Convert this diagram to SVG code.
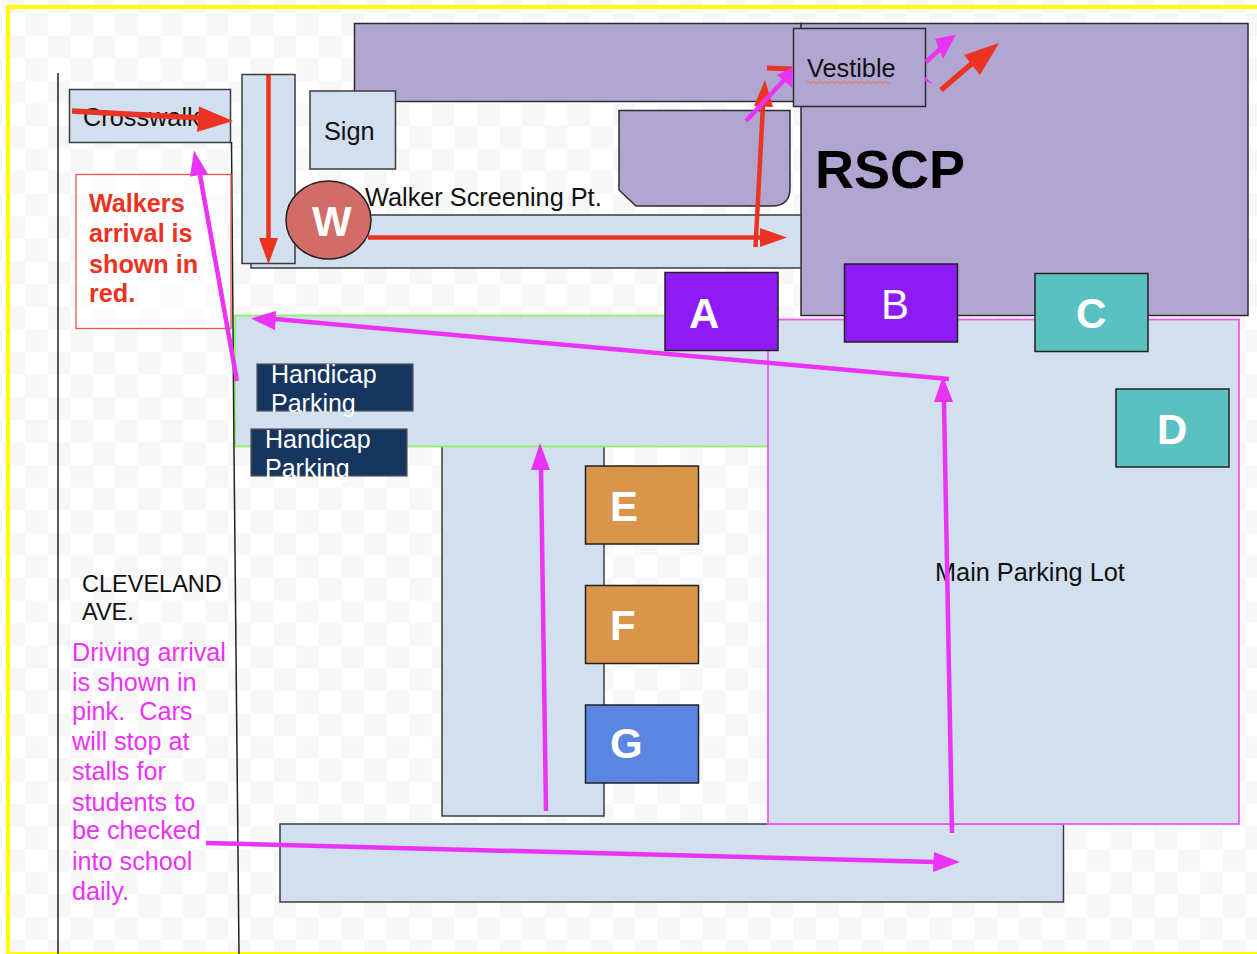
<svg xmlns="http://www.w3.org/2000/svg" width="1257" height="954" viewBox="0 0 1257 954">
<style>
text{font-family:"Liberation Sans",Arial,sans-serif}
.b{fill:#d2dfef;stroke:#3d3d3d;stroke-width:1.5}
.p{fill:#b1a6d1;stroke:#2c2c2c;stroke-width:1.5}
.k{font-size:25.3px;fill:#111}
.w{fill:#fff;font-weight:bold;font-size:42px}
.hc{fill:#17365f;stroke:#555;stroke-width:1.2}
.ht{fill:#fff;font-size:25px}
.rl{stroke:#ec3323;stroke-width:4.500;fill:none}
.ml{stroke:#ea33f5;stroke-width:4.500;fill:none}
.ra{fill:#ec3323}
.ma{fill:#ea33f5}
.rt{fill:#ec3323;font-size:25.2px;font-weight:bold}
.mt{fill:#ea33f5;font-size:25.2px;white-space:pre}
.tile{stroke:#222;stroke-width:1.5}
</style>
<defs>
<pattern id="chk" width="45.2" height="45.2" x="25" y="13" patternUnits="userSpaceOnUse">
<rect width="45.2" height="45.2" fill="#fff"/>
<rect width="22.6" height="22.6" fill="#f7f7f7"/>
<rect x="22.6" y="22.6" width="22.6" height="22.6" fill="#f7f7f7"/>
</pattern>
</defs>
<rect id="background" width="1257" height="954" fill="url(#chk)"/>
<rect id="frame" x="8" y="7" width="1262" height="947" fill="none" stroke="#ffff00" stroke-width="4"/>

<g id="building">
<rect class="p" x="354.500" y="23.500" width="447" height="78"/>
<rect class="p" x="801" y="23.500" width="447" height="292"/>
<path class="p" d="M619 110.500H790V188Q790 206 772 206H636L619 190Z"/>
</g>

<g id="walkway">
<rect class="b" x="251" y="215" width="550" height="53"/>
<rect class="b" x="242" y="74.500" width="53" height="189"/>
</g>

<g id="crosswalk"><rect class="b" x="69.500" y="89.500" width="161" height="53"/><text class="k" x="83" y="126">Crosswalk</text></g>
<g id="sign"><rect class="b" x="310" y="91" width="85.500" height="78"/><text class="k" x="324" y="140">Sign</text></g>
<g id="walker-label"><text class="k" x="365" y="206">Walker Screening Pt.</text></g>
<g id="w"><ellipse cx="328.500" cy="220" rx="42.500" ry="39" fill="#d16c68" stroke="#222" stroke-width="1.5"/><text class="w" x="312" y="236">W</text></g>

<g id="lane"><rect class="b" x="442" y="440" width="162" height="376"/></g>
<g id="bottom-lane"><rect class="b" x="280" y="824" width="783.500" height="78"/></g>
<g id="front-lot"><rect x="235" y="315.500" width="533" height="131" fill="#d2dfef" stroke="#8cf268" stroke-width="1.800"/></g>
<g id="main-lot"><rect x="768" y="319.500" width="471" height="504.500" fill="#d2dfef" stroke="#ec5cf0" stroke-width="1.800"/><text class="k" x="935" y="581">Main Parking Lot</text></g>

<g id="road-lines" fill="none" stroke="#222" stroke-width="1.5">
<path d="M58 73V954"/>
<path d="M231.500 142L234 450L239 954"/>
</g>

<g id="vestible"><rect class="p" x="793.500" y="28.500" width="132" height="78"/><text class="k" x="807" y="77">Vestible</text><path d="M806 82.500q1.500-2 3-0t3 0 3 0 3 0 3 0 3 0 3 0 3 0 3 0 3 0 3 0 3 0 3 0 3 0 3 0 3 0 3 0 3 0 3 0 3 0 3 0 3 0 3 0 3 0 3 0 3 0 3 0 3 0" fill="none" stroke="#e8786a" stroke-width="1.200"/></g>
<g id="rscp"><text x="815" y="188" font-size="54" font-weight="bold" fill="#000">RSCP</text></g>

<g id="A"><rect class="tile" x="665" y="272.500" width="113" height="78" fill="#8e1bf5"/><text class="w" x="689" y="328">A</text></g>
<g id="B"><rect class="tile" x="844.500" y="264" width="113" height="78" fill="#8e1bf5"/><text x="881" y="319" font-size="42" fill="#fff">B</text></g>
<g id="C"><rect class="tile" x="1035" y="273.500" width="113" height="78" fill="#59c2c0"/><text class="w" x="1076" y="328">C</text></g>
<g id="D"><rect class="tile" x="1116" y="389" width="113" height="78" fill="#59c2c0"/><text class="w" x="1157" y="444">D</text></g>
<g id="E"><rect class="tile" x="585.500" y="466" width="113" height="78" fill="#d9964b"/><text class="w" x="610" y="521">E</text></g>
<g id="F"><rect class="tile" x="585.500" y="585.500" width="113" height="78" fill="#d9964b"/><text class="w" x="610" y="640">F</text></g>
<g id="G"><rect class="tile" x="585.500" y="705" width="113" height="78" fill="#5a86e2"/><text class="w" x="610" y="758">G</text></g>

<g id="handicap-1"><rect class="hc" x="257" y="364" width="156" height="47"/><text class="ht" x="271" y="383">Handicap</text><text class="ht" x="271" y="412">Parking</text></g>
<g id="handicap-2"><rect class="hc" x="251" y="429" width="156" height="47"/><text class="ht" x="265" y="448">Handicap</text><text class="ht" x="265" y="477">Parking</text></g>

<g id="walkers-note"><rect x="76" y="174.500" width="155" height="154" fill="#fff" fill-opacity=".6" stroke="#f0554a" stroke-width="1.300"/>
<text class="rt"><tspan x="89" y="212">Walkers</tspan><tspan x="89" y="242">arrival is</tspan><tspan x="89" y="273">shown in</tspan><tspan x="89" y="302">red.</tspan></text></g>
<g id="street-label"><text font-size="23.500" fill="#111"><tspan x="82" y="592">CLEVELAND</tspan><tspan x="82" y="620">AVE.</tspan></text></g>
<g id="driving-note"><text class="mt"><tspan x="72" y="661">Driving arrival</tspan><tspan x="72" y="691">is shown in</tspan><tspan x="72" y="720">pink.  Cars</tspan><tspan x="72" y="750">will stop at</tspan><tspan x="72" y="780">stalls for</tspan><tspan x="72" y="811">students to</tspan><tspan x="72" y="839">be checked</tspan><tspan x="72" y="870">into school</tspan><tspan x="72" y="900">daily.</tspan></text></g>

<g id="connectors">
<path class="rl" d="M72 111L200 118" style="stroke-width:5.500"/><path class="ra" d="M199 106.500L233 121L197 132Z"/>
<path class="rl" d="M268.500 75V240"/><path class="ra" d="M259 238H278L268.500 264Z"/>
<path class="rl" d="M368 237.500H760"/><path class="ra" d="M760 228L787 237.500L760 247Z"/>
<path class="rl" d="M755.500 247L763 105"/><path class="ra" d="M754 106L765 80L773 107Z"/>
<path class="rl" d="M767 68L793 69" style="stroke-width:5"/>
<path class="ml" d="M746 121L786 78"/><path class="ma" d="M777 75L793 67L792.500 88Z"/>
<path class="ml" d="M926 62L940 49"/><path class="ma" d="M935 39L956 34.500L943 59Z"/>
<path class="ma" d="M925 77L933 84L925 81Z"/>
<path class="rl" d="M941 90L976 60" style="stroke-width:5.500"/><path class="ra" d="M964 55L999 43L980 75Z"/>
<path class="ml" d="M237 381L200 175"/><path class="ma" d="M190 176.500L194 150.500L208 174Z"/>
<path class="ml" d="M949 379L275 319"/><path class="ma" d="M276 311L251 318.500L275 330Z"/>
<path class="ml" d="M546 811L541 470"/><path class="ma" d="M531 470L540 443L550 470Z"/>
<path class="ml" d="M952 833L944 402"/><path class="ma" d="M934 402L943 376L953 402Z"/>
<path class="ml" d="M206 843L935 862"/><path class="ma" d="M934 852L960 862L933 872Z"/>
</g>
</svg>
